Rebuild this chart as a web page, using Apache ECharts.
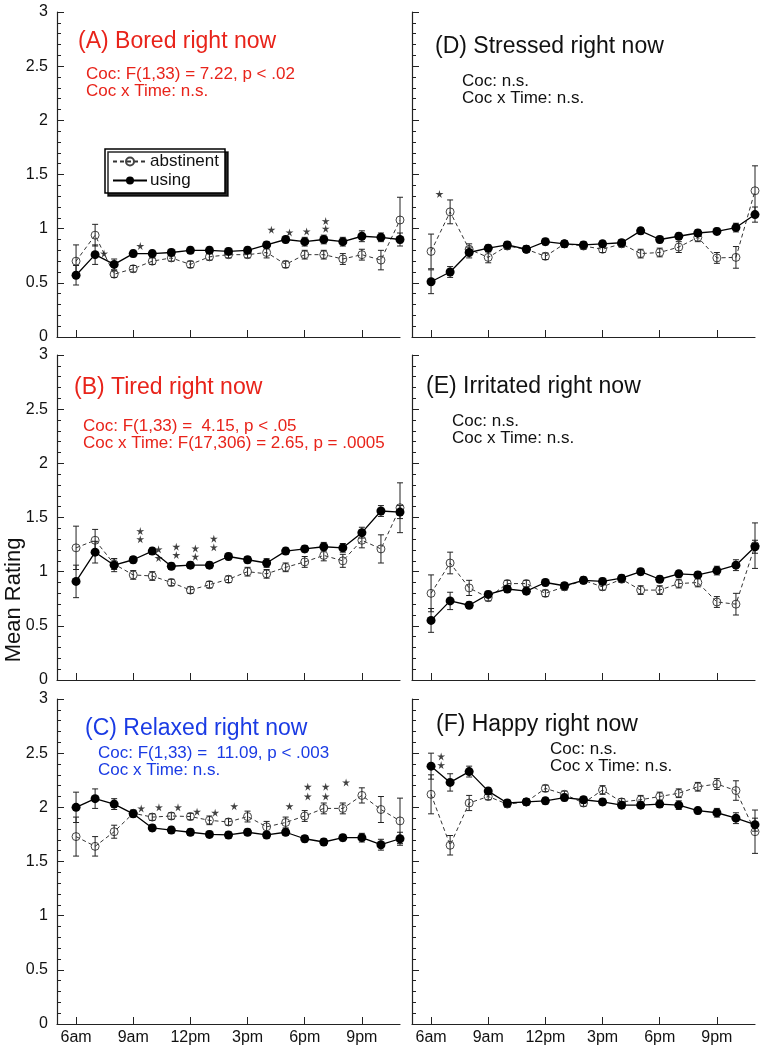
<!DOCTYPE html>
<html>
<head>
<meta charset="utf-8">
<script src="https://cdn.jsdelivr.net/npm/echarts@6/dist/echarts.min.js"></script>
<style>
  html, body { margin: 0; padding: 0; background: #fff; }
  #chart { width: 762px; height: 1050px; }
</style>
</head>
<body>
<div id="chart"></div>
<script>
// hour of day (6am .. 11pm)
const hours = [6, 7, 8, 9, 10, 11, 12, 13, 14, 15, 16, 17, 18, 19, 20, 21, 22, 23]
const xTickValues = [6, 9, 12, 15, 18, 21]
const xTickLabels = ["6am", "9am", "12pm", "3pm", "6pm", "9pm"]

// (A) Bored
const boredAbst = [0.70, 0.94, 0.58, 0.63, 0.70, 0.73, 0.67, 0.74, 0.76, 0.76, 0.78, 0.67, 0.76, 0.76, 0.72, 0.76, 0.71, 1.08]
const boredAbstErr = [0.15, 0.10, 0.03, 0.03, 0.03, 0.03, 0.03, 0.03, 0.03, 0.03, 0.05, 0.03, 0.04, 0.04, 0.05, 0.05, 0.09, 0.21]
const boredUse = [0.57, 0.76, 0.67, 0.77, 0.77, 0.78, 0.80, 0.80, 0.79, 0.80, 0.85, 0.90, 0.88, 0.90, 0.88, 0.93, 0.92, 0.90]
const boredUseErr = [0.09, 0.09, 0.05, 0.03, 0.03, 0.03, 0.03, 0.03, 0.03, 0.03, 0.03, 0.03, 0.04, 0.04, 0.04, 0.05, 0.04, 0.06]
const boredStars = [[7.47, 0.77], [9.37, 0.84], [16.25, 0.99], [17.2, 0.965], [18.1, 0.975], [19.1, 1.0], [19.1, 1.07]]

// (B) Tired
const tiredAbst = [1.22, 1.29, 1.07, 0.97, 0.96, 0.90, 0.83, 0.88, 0.93, 1.00, 0.98, 1.04, 1.09, 1.15, 1.10, 1.29, 1.21, 1.59]
const tiredAbstErr = [0.20, 0.10, 0.05, 0.04, 0.04, 0.03, 0.03, 0.03, 0.03, 0.04, 0.04, 0.04, 0.05, 0.05, 0.06, 0.07, 0.13, 0.23]
const tiredUse = [0.91, 1.18, 1.06, 1.11, 1.19, 1.05, 1.06, 1.06, 1.14, 1.11, 1.08, 1.19, 1.21, 1.23, 1.22, 1.36, 1.56, 1.55]
const tiredUseErr = [0.15, 0.10, 0.06, 0.03, 0.03, 0.03, 0.03, 0.03, 0.03, 0.03, 0.04, 0.03, 0.03, 0.04, 0.04, 0.05, 0.05, 0.06]
const tiredStars = [[9.37, 1.375], [9.37, 1.30], [10.33, 1.206], [10.33, 1.126], [11.26, 1.23], [11.26, 1.154],
  [12.26, 1.215], [12.26, 1.138], [13.23, 1.305], [13.23, 1.225]]

// (C) Relaxed
const relaxAbst = [1.73, 1.64, 1.775, 1.945, 1.91, 1.92, 1.915, 1.88, 1.865, 1.915, 1.82, 1.86, 1.92, 1.99, 1.99, 2.11, 1.98, 1.875]
const relaxAbstErr = [0.18, 0.09, 0.06, 0.03, 0.03, 0.03, 0.03, 0.04, 0.03, 0.05, 0.05, 0.05, 0.05, 0.05, 0.05, 0.07, 0.12, 0.21]
const relaxUse = [2.00, 2.08, 2.03, 1.94, 1.81, 1.79, 1.77, 1.75, 1.745, 1.77, 1.745, 1.77, 1.71, 1.68, 1.72, 1.72, 1.655, 1.71]
const relaxUseErr = [0.14, 0.09, 0.05, 0.03, 0.03, 0.03, 0.03, 0.03, 0.03, 0.03, 0.03, 0.03, 0.03, 0.03, 0.03, 0.04, 0.05, 0.06]
const relaxStars = [[9.42, 1.99], [10.35, 2.0], [11.35, 2.0], [12.35, 1.96], [13.3, 1.95], [14.3, 2.01], [17.2, 2.01],
  [18.16, 2.19], [18.16, 2.10], [19.1, 2.19], [19.1, 2.10], [20.17, 2.23]]

// (D) Stressed
const stressAbst = [0.79, 1.155, 0.81, 0.735, 0.84, 0.81, 0.745, 0.86, 0.84, 0.81, 0.86, 0.77, 0.78, 0.83, 0.92, 0.73, 0.735, 1.35]
const stressAbstErr = [0.16, 0.11, 0.05, 0.05, 0.03, 0.03, 0.03, 0.03, 0.03, 0.03, 0.03, 0.04, 0.04, 0.05, 0.04, 0.05, 0.10, 0.23]
const stressUse = [0.51, 0.60, 0.78, 0.82, 0.85, 0.81, 0.88, 0.86, 0.85, 0.86, 0.87, 0.98, 0.90, 0.93, 0.96, 0.975, 1.01, 1.13]
const stressUseErr = [0.11, 0.05, 0.05, 0.03, 0.03, 0.03, 0.03, 0.03, 0.03, 0.03, 0.03, 0.03, 0.03, 0.03, 0.03, 0.03, 0.04, 0.07]
const stressStars = [[6.44, 1.32]]

// (E) Irritated
const irritAbst = [0.80, 1.08, 0.85, 0.76, 0.89, 0.89, 0.80, 0.86, 0.92, 0.86, 0.93, 0.83, 0.83, 0.89, 0.90, 0.72, 0.70, 1.24]
const irritAbstErr = [0.17, 0.10, 0.07, 0.03, 0.03, 0.03, 0.03, 0.03, 0.03, 0.03, 0.03, 0.04, 0.04, 0.04, 0.04, 0.05, 0.10, 0.21]
const irritUse = [0.55, 0.73, 0.69, 0.79, 0.84, 0.82, 0.90, 0.87, 0.92, 0.91, 0.94, 1.00, 0.93, 0.98, 0.97, 1.01, 1.06, 1.23]
const irritUseErr = [0.11, 0.08, 0.03, 0.03, 0.03, 0.03, 0.03, 0.03, 0.03, 0.03, 0.03, 0.03, 0.03, 0.03, 0.03, 0.04, 0.05, 0.06]
const irritStars = []

// (F) Happy
const happyAbst = [2.12, 1.65, 2.04, 2.10, 2.03, 2.05, 2.175, 2.12, 2.04, 2.16, 2.05, 2.07, 2.10, 2.13, 2.19, 2.215, 2.155, 1.775]
const happyAbstErr = [0.18, 0.09, 0.07, 0.03, 0.03, 0.03, 0.03, 0.03, 0.03, 0.04, 0.03, 0.04, 0.04, 0.04, 0.04, 0.05, 0.09, 0.20]
const happyUse = [2.38, 2.23, 2.33, 2.15, 2.04, 2.05, 2.06, 2.09, 2.07, 2.05, 2.02, 2.02, 2.03, 2.02, 1.97, 1.95, 1.90, 1.84]
const happyUseErr = [0.12, 0.08, 0.05, 0.03, 0.03, 0.03, 0.03, 0.03, 0.03, 0.03, 0.03, 0.03, 0.03, 0.04, 0.03, 0.04, 0.05, 0.06]
const happyStars = [[6.53, 2.47], [6.53, 2.39]]

const panelTitles = ["(A) Bored right now", "(B) Tired right now", "(C) Relaxed right now",
  "(D) Stressed right now", "(E) Irritated right now", "(F) Happy right now"]
const panelStats = [
  ["Coc: F(1,33) = 7.22, p < .02", "Coc x Time: n.s."],
  ["Coc: F(1,33) =  4.15, p < .05", "Coc x Time: F(17,306) = 2.65, p = .0005"],
  ["Coc: F(1,33) =  11.09, p < .003", "Coc x Time: n.s."],
  ["Coc: n.s.", "Coc x Time: n.s."],
  ["Coc: n.s.", "Coc x Time: n.s."],
  ["Coc: n.s.", "Coc x Time: n.s."],
]

const FONT = '"Liberation Sans", Arial, Helvetica, sans-serif'
const RED = "#e8231a"
const BLUE = "#1a3be4"

// layout of the 6 panels
const panels = [
  { abst: boredAbst, abstErr: boredAbstErr, use: boredUse, useErr: boredUseErr, stars: boredStars,
    row: 0, col: 0, color: RED, title: [78, 42], stats: [86, 74] },
  { abst: tiredAbst, abstErr: tiredAbstErr, use: tiredUse, useErr: tiredUseErr, stars: tiredStars,
    row: 1, col: 0, color: RED, title: [74, 388], stats: [83, 426] },
  { abst: relaxAbst, abstErr: relaxAbstErr, use: relaxUse, useErr: relaxUseErr, stars: relaxStars,
    row: 2, col: 0, color: BLUE, title: [85, 729], stats: [98, 753] },
  { abst: stressAbst, abstErr: stressAbstErr, use: stressUse, useErr: stressUseErr, stars: stressStars,
    row: 0, col: 1, color: "#111", title: [435, 47], stats: [462, 81] },
  { abst: irritAbst, abstErr: irritAbstErr, use: irritUse, useErr: irritUseErr, stars: irritStars,
    row: 1, col: 1, color: "#111", title: [426, 387], stats: [452, 421] },
  { abst: happyAbst, abstErr: happyAbstErr, use: happyUse, useErr: happyUseErr, stars: happyStars,
    row: 2, col: 1, color: "#111", title: [436, 725], stats: [550, 749] },
]
const gridTops = [12, 355, 699]
const gridLefts = [57, 412]

const STAR = "path://M50,0 L60,36 L98,35 L67,57 L79,93 L50,71 L21,93 L33,57 L2,35 L40,36 Z"

// error bars: vertical line with caps
const renderErr = (params, api) => {
  const x = api.value(0)
  const top = api.coord([x, api.value(2)])
  const bot = api.coord([x, api.value(1)])
  const c = 3
  const st = { stroke: "#222", lineWidth: 1 }
  return {
    type: "group",
    children: [
      { type: "line", shape: { x1: top[0], y1: top[1], x2: bot[0], y2: bot[1] }, style: st },
      { type: "line", shape: { x1: top[0] - c, y1: top[1], x2: top[0] + c, y2: top[1] }, style: st },
      { type: "line", shape: { x1: bot[0] - c, y1: bot[1], x2: bot[0] + c, y2: bot[1] }, style: st },
    ],
  }
}

const axisLine = { show: true, onZero: false, lineStyle: { color: "#222", width: 1.2 } }

const grid = []
const xAxis = []
const yAxis = []
const series = []
const graphic = []

panels.forEach((p, i) => {
  grid.push({ left: gridLefts[p.col], top: gridTops[p.row], width: 343, height: 325, outerBoundsMode: "none" })
  xAxis.push({
    gridIndex: i, type: "value", min: 5, max: 23,
    axisLine: axisLine,
    axisTick: { show: true, inside: true, length: 7, customValues: xTickValues, lineStyle: { color: "#222" } },
    axisLabel: {
      show: p.row === 2, customValues: xTickValues, margin: 6,
      fontSize: 16, fontFamily: FONT, color: "#111",
      formatter: (v) => xTickLabels[xTickValues.indexOf(v)],
    },
    splitLine: { show: false },
  })
  yAxis.push({
    gridIndex: i, type: "value", min: 0, max: 3, interval: 0.5,
    axisLine: axisLine,
    axisTick: { show: true, inside: true, length: 7, lineStyle: { color: "#222" } },
    minorTick: { show: true, splitNumber: 5, length: 4, lineStyle: { color: "#222" } },
    axisLabel: { show: p.col === 0, margin: 9, fontSize: 16, fontFamily: FONT, color: "#111" },
    splitLine: { show: false },
  })

  series.push({
    name: "abstinent", type: "line", xAxisIndex: i, yAxisIndex: i, z: 2,
    data: hours.map((h, k) => [h, p.abst[k]]),
    symbol: "circle", symbolSize: 8,
    itemStyle: { color: "rgba(255,255,255,0)", borderColor: "#444", borderWidth: 1 },
    lineStyle: { color: "#333", width: 1, type: [4, 3] },
    animation: false, silent: true,
  })
  series.push({
    name: "errA" + i, type: "custom", xAxisIndex: i, yAxisIndex: i, z: 3,
    renderItem: renderErr, encode: { x: 0, y: [1, 2] },
    data: hours.map((h, k) => [h, p.abst[k] - p.abstErr[k], p.abst[k] + p.abstErr[k]]),
    animation: false, silent: true,
  })
  series.push({
    name: "errU" + i, type: "custom", xAxisIndex: i, yAxisIndex: i, z: 3,
    renderItem: renderErr, encode: { x: 0, y: [1, 2] },
    data: hours.map((h, k) => [h, p.use[k] - p.useErr[k], p.use[k] + p.useErr[k]]),
    animation: false, silent: true,
  })
  series.push({
    name: "using", type: "line", xAxisIndex: i, yAxisIndex: i, z: 4,
    data: hours.map((h, k) => [h, p.use[k]]),
    symbol: "circle", symbolSize: 9,
    itemStyle: { color: "#000" },
    lineStyle: { color: "#000", width: 1.3 },
    animation: false, silent: true,
  })
  series.push({
    name: "stars" + i, type: "scatter", xAxisIndex: i, yAxisIndex: i, z: 5,
    data: p.stars, symbol: STAR, symbolSize: 8,
    itemStyle: { color: "#111" },
    animation: false, silent: true,
  })

  graphic.push({
    type: "text", x: p.title[0], y: p.title[1],
    style: { text: panelTitles[i], font: "23px " + FONT, fill: p.color, verticalAlign: "middle" },
  })
  panelStats[i].forEach((line, j) => {
    graphic.push({
      type: "text", x: p.stats[0], y: p.stats[1] + j * 17,
      style: { text: line, font: "17px " + FONT, fill: p.color, verticalAlign: "middle" },
    })
  })
})

graphic.push({
  type: "text", x: 14, y: 600, rotation: Math.PI / 2,
  style: { text: "Mean Rating", font: "22px " + FONT, fill: "#111", align: "center", verticalAlign: "middle" },
})

const option = {
  backgroundColor: "#fff",
  animation: false,
  grid: grid,
  xAxis: xAxis,
  yAxis: yAxis,
  legend: {
    data: ["abstinent", "using"],
    orient: "vertical",
    left: 105, top: 149,
    itemWidth: 34, itemHeight: 10, itemGap: 2,
    padding: [4, 6, 4, 7],
    backgroundColor: "#fff",
    borderColor: "#000", borderWidth: 1.5,
    shadowColor: "rgba(0,0,0,0.85)", shadowBlur: 0, shadowOffsetX: 3, shadowOffsetY: 3,
    textStyle: { fontSize: 17, fontFamily: FONT, color: "#111", padding: [0, 0, 0, -2] },
    selectedMode: false,
  },
  graphic: graphic,
  series: series,
}

const chart = echarts.init(document.getElementById("chart"))
chart.setOption(option)
</script>
</body>
</html>
